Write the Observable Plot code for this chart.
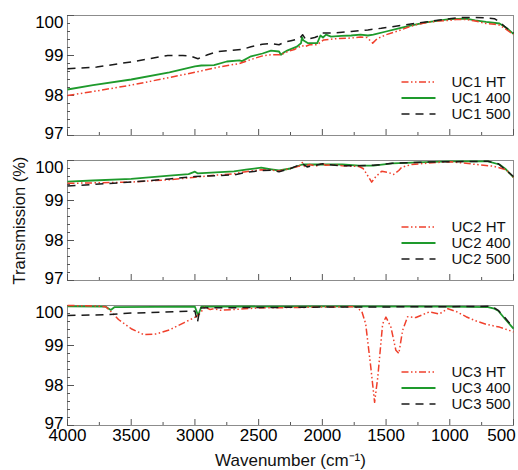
<!DOCTYPE html>
<html><head><meta charset="utf-8">
<script src="https://cdn.jsdelivr.net/npm/d3@7"></script>
<script src="https://cdn.jsdelivr.net/npm/@observablehq/plot@0.6"></script>
<style>html,body{margin:0;padding:0;background:#fff;}</style>
</head><body><div id="chart"></div>
<script>
const panels = ["UC1", "UC2", "UC3"];
const seriesNames = ["HT", "400", "500"];
const xMajorTicks = [4000, 3500, 3000, 2500, 2000, 1500, 1000, 500];
const xMinorTicks = [3750, 3250, 2750, 2250, 1750, 1250, 750];
const yMajorTicks = [97, 98, 99, 100];
const yMinorTicks = [97.2, 97.4, 97.6, 97.8, 98.2, 98.4, 98.6, 98.8, 99.2, 99.4, 99.6, 99.8];

// [wavenumber, transmission %]
const uc1HT = [[4000,98.00],[3800,98.10],[3500,98.26],[3200,98.45],[3000,98.58],[2800,98.72],[2650,98.80],[2560,98.90],[2470,98.99],[2400,99.02],[2325,99.02],[2270,99.10],[2220,99.15],[2160,99.25],[2140,99.22],[2100,99.27],[2040,99.27],[1990,99.39],[1900,99.42],[1800,99.43],[1700,99.46],[1650,99.45],[1605,99.31],[1570,99.42],[1500,99.52],[1400,99.62],[1318,99.72],[1250,99.78],[1187,99.82],[1100,99.86],[1003,99.88],[950,99.90],[872,99.90],[800,99.86],[715,99.80],[650,99.78],[610,99.76],[560,99.66],[500,99.52]];
const uc1_400 = [[4000,98.15],[3800,98.26],[3500,98.40],[3200,98.58],[3000,98.73],[2950,98.75],[2850,98.76],[2750,98.85],[2650,98.88],[2630,98.86],[2560,98.98],[2470,99.05],[2403,99.12],[2340,99.10],[2325,99.02],[2300,99.08],[2272,99.13],[2200,99.22],[2167,99.31],[2160,99.46],[2150,99.38],[2115,99.31],[2040,99.31],[2015,99.50],[1995,99.45],[1971,99.52],[1932,99.47],[1850,99.49],[1774,99.50],[1700,99.52],[1643,99.50],[1600,99.52],[1500,99.60],[1400,99.68],[1318,99.74],[1187,99.83],[1003,99.91],[872,99.92],[800,99.88],[715,99.84],[610,99.80],[560,99.70],[500,99.54]];
const uc1_500 = [[4000,98.67],[3771,98.71],[3500,98.84],[3213,99.00],[3095,99.00],[3030,98.98],[2976,98.92],[2900,99.02],[2819,99.10],[2630,99.15],[2560,99.22],[2472,99.28],[2400,99.30],[2340,99.27],[2300,99.33],[2246,99.37],[2180,99.42],[2155,99.52],[2130,99.40],[2060,99.45],[2036,99.48],[2010,99.56],[1932,99.56],[1774,99.60],[1643,99.64],[1538,99.68],[1450,99.72],[1318,99.78],[1187,99.84],[1003,99.92],[900,99.95],[800,99.95],[715,99.94],[650,99.92],[610,99.84],[560,99.70],[500,99.56]];

const uc2HT = [[4000,99.43],[3800,99.44],[3500,99.46],[3200,99.52],[3000,99.58],[2850,99.63],[2694,99.67],[2600,99.72],[2480,99.77],[2400,99.76],[2340,99.74],[2250,99.80],[2180,99.86],[2157,99.95],[2140,99.85],[2100,99.90],[2050,99.86],[2000,99.93],[1975,99.88],[1900,99.89],[1843,99.87],[1712,99.85],[1680,99.80],[1640,99.60],[1613,99.46],[1580,99.60],[1534,99.73],[1480,99.70],[1442,99.65],[1400,99.75],[1377,99.83],[1300,99.90],[1187,99.93],[1003,99.97],[900,99.94],[793,99.90],[662,99.86],[557,99.77],[500,99.58]];
const uc2_400 = [[4000,99.47],[3800,99.50],[3500,99.54],[3200,99.62],[3050,99.66],[3000,99.72],[2980,99.68],[2694,99.73],[2600,99.77],[2480,99.82],[2400,99.78],[2340,99.75],[2250,99.80],[2157,99.90],[2000,99.90],[1843,99.90],[1712,99.87],[1600,99.87],[1450,99.93],[1187,99.96],[1003,99.98],[700,99.98],[610,99.90],[560,99.78],[500,99.58]];
const uc2_500 = [[4000,99.36],[3800,99.40],[3500,99.46],[3200,99.54],[3000,99.60],[2694,99.64],[2600,99.70],[2480,99.75],[2400,99.76],[2340,99.72],[2250,99.80],[2157,99.92],[2120,99.84],[2050,99.88],[2000,99.92],[1900,99.88],[1843,99.87],[1712,99.87],[1600,99.88],[1450,99.93],[1187,99.96],[1003,99.97],[700,99.98],[620,99.92],[560,99.76],[500,99.60]];

const uc3HT = [[4000,100.00],[3800,99.99],[3700,99.97],[3650,99.82],[3600,99.65],[3500,99.42],[3400,99.27],[3300,99.29],[3200,99.39],[3080,99.58],[2990,99.72],[2960,99.80],[2925,99.96],[2880,99.90],[2850,99.92],[2800,99.88],[2694,99.90],[2500,99.94],[2200,99.95],[2000,99.96],[1739,99.97],[1690,99.85],[1660,99.54],[1620,98.46],[1590,97.58],[1565,98.21],[1527,99.54],[1501,99.71],[1462,99.46],[1423,98.88],[1400,98.80],[1370,99.38],[1331,99.72],[1266,99.70],[1161,99.84],[1082,99.79],[1014,99.92],[950,99.85],[872,99.72],[800,99.62],[715,99.53],[610,99.46],[500,99.34]];
const uc3_400 = [[4000,99.98],[3700,99.97],[3660,99.89],[3630,99.96],[3000,99.97],[2975,99.75],[2950,99.97],[2000,99.98],[1000,99.97],[700,99.96],[650,99.92],[620,99.87],[568,99.67],[500,99.42]];
const uc3_500 = [[4000,99.75],[3700,99.77],[3500,99.81],[3000,99.86],[2980,99.58],[2960,99.94],[2000,99.96],[1000,99.97],[700,99.98],[650,99.94],[620,99.88],[568,99.70],[500,99.44]];

const seriesData = {
  UC1: {HT: uc1HT, "400": uc1_400, "500": uc1_500},
  UC2: {HT: uc2HT, "400": uc2_400, "500": uc2_500},
  UC3: {HT: uc3HT, "400": uc3_400, "500": uc3_500}
};

const styles = {
  HT:   {stroke: "#f0402c", strokeWidth: 1.5, strokeDasharray: "7,2.5,1.5,2.5,1.5,2.5"},
  "400":{stroke: "#1e9a2c", strokeWidth: 1.8, strokeDasharray: null},
  "500":{stroke: "#1a1a1a", strokeWidth: 1.5, strokeDasharray: "8,6"}
};

const rows = [];
for (const p of panels) for (const s of seriesNames)
  for (const [wn, t] of seriesData[p][s]) rows.push({panel: p, series: s, wn, t});

const legendData = panels.map(p => ({panel: p}));
const legendDy = [66.5, 82.5, 98.5];
const lineShape = {draw(ctx, l) { ctx.moveTo(0, 0); ctx.lineTo(0, -l); }};
const frameGray = "#8c8c8c";
const tickFont = 17;

const drawOrder = ["400", "HT", "500"];
const marks = [
  Plot.frame({stroke: frameGray}),
  Plot.tickX(xMajorTicks, {x: d => d, insetTop: 114, stroke: "#555"}),
  Plot.tickX(xMinorTicks, {x: d => d, insetTop: 117, stroke: "#555"}),
  Plot.tickY(yMajorTicks, {y: d => d, insetRight: 439, stroke: "#555"}),
  Plot.tickY(yMinorTicks, {y: d => d, insetRight: 443, stroke: "#555"}),
  Plot.axisY({ticks: [98, 99], tickSize: 0, tickPadding: 4, tickFormat: "d", label: null, fontSize: tickFont}),
  Plot.axisY({ticks: [97], tickSize: 0, tickPadding: 4, tickFormat: "d", label: null, dy: -2, fontSize: tickFont}),
  Plot.axisY({ticks: [100], tickSize: 0, tickPadding: 4, tickFormat: "d", label: null, dy: 7, fontSize: tickFont}),
  Plot.axisX({ticks: xMajorTicks.slice(0, -1), tickSize: 0, tickPadding: 3, tickFormat: "d", label: null, fontSize: tickFont}),
  Plot.axisX({ticks: xMajorTicks.slice(-1), tickSize: 0, tickPadding: 3, tickFormat: "d", label: null, dx: -12, fontSize: tickFont}),
  ...drawOrder.map(s => Plot.line(rows.filter(r => r.series === s), {
    x: "wn", y: "t", z: "panel", fy: "panel",
    stroke: styles[s].stroke, strokeWidth: styles[s].strokeWidth,
    strokeDasharray: styles[s].strokeDasharray, strokeLinecap: "butt"
  })),
  ...seriesNames.map((s, i) => Plot.vector(legendData, {
    fy: "panel", frameAnchor: "top-left", dx: 334, dy: legendDy[i],
    rotate: 90, length: 34, anchor: "start", shape: lineShape,
    stroke: styles[s].stroke, strokeWidth: styles[s].strokeWidth,
    strokeDasharray: styles[s].strokeDasharray, strokeLinecap: "butt"
  })),
  ...seriesNames.map((s, i) => Plot.text(legendData, {
    fy: "panel", frameAnchor: "top-left", dx: 384, dy: legendDy[i],
    text: d => d.panel + " " + s, textAnchor: "start", lineAnchor: "middle",
    fontSize: 15, fill: "#111"
  })),
  Plot.text([{panel: "UC2"}], {fy: "panel", frameAnchor: "left", dx: -48, rotate: -90,
    textAnchor: "middle", lineAnchor: "middle",
    text: () => "Transmission (%)", fontSize: 16.5, fill: "#111"}),
  Plot.text([{panel: "UC3"}], {fy: "panel", frameAnchor: "bottom", dy: 35,
    textAnchor: "middle", lineAnchor: "middle",
    text: () => "Wavenumber (cm\u207B\u00B9)", fontSize: 17, fill: "#111"})
];

const chart = Plot.plot({
  width: 518,
  height: 470,
  marginTop: 15,
  marginLeft: 67,
  marginRight: 5,
  marginBottom: 45,
  style: {fontFamily: "'Liberation Sans', Arial, sans-serif", fontSize: "17px", background: "#fff"},
  x: {domain: [4000, 500]},
  y: {domain: [97, 100]},
  fy: {domain: panels, axis: null, paddingInner: 25 / 145, paddingOuter: 0, label: null},
  marks
});
document.getElementById("chart").appendChild(chart);
</script>
</body></html>
